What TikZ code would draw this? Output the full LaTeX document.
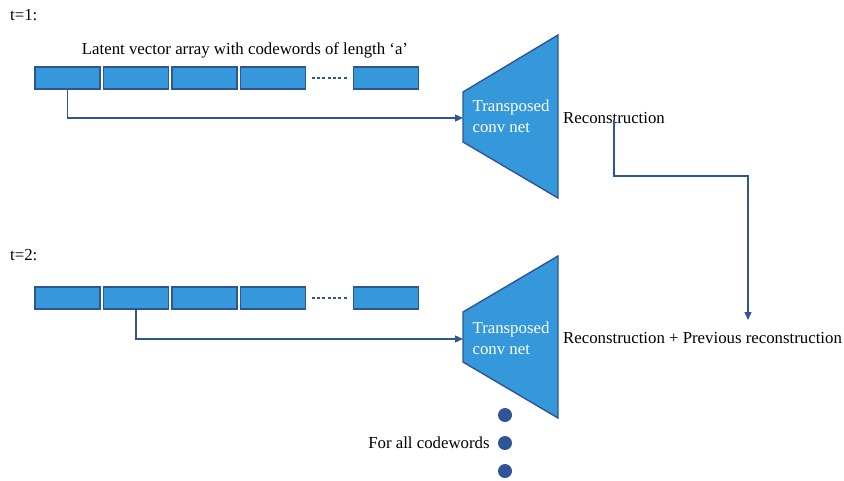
\documentclass[tikz,border=0pt]{standalone}
\usepackage{fontspec}
\setmainfont{Liberation Serif}
\usetikzlibrary{positioning}
\usetikzlibrary{arrows.meta}
\definecolor{cellblue}{HTML}{3498DB}
\definecolor{edgeblue}{HTML}{2F5597}

\begin{document}
\begin{tikzpicture}[x=1pt,y=-1pt,node distance=68.5pt,on grid,
   cell/.style={draw=edgeblue,fill=cellblue,line width=1.5pt,minimum width=65pt,minimum height=22pt,inner sep=0pt},
   link/.style={draw=edgeblue,line width=1.3pt,-{Triangle[length=8pt,width=7pt]}},
   net/.style={draw=edgeblue,fill=cellblue,line width=1.4pt},
   txt/.style={font=\fontsize{16.8}{19}\selectfont,inner sep=0pt},
   wtxt/.style={txt,text=white,align=left}]
   \useasboundingbox (0,0) rectangle (844,480);
   % t=1
   \node[txt,anchor=west] (t_1) at (10,15) {t=1:};
   \node[txt] (lat) at (245,50) {Latent vector array with codewords of length ‘a’};
   \node[cell] (c_11) at (67.5,78) {};
   \node[cell] (c_12) [right=of c_11] {};
   \node[cell] (c_13) [right=of c_12] {};
   \node[cell] (c_14) [right=of c_13] {};
   \node[cell] (c_15) [right=113pt of c_14] {};
   \draw[net] (463,92) -- (558,35) -- (558,198) -- (463,142) -- cycle;
   \coordinate (in_1) at (463,118);
   \node[wtxt] (net_1) at (511,116.5) {Transposed\\[2pt]conv net};
   \node[txt] (rec_1) at (614,118) {Reconstruction};
   % t=2
   \node[txt,anchor=west] (t_2) at (10,255) {t=2:};
   \node[cell] (c_21) at (67.5,298) {};
   \node[cell] (c_22) [right=of c_21] {};
   \node[cell] (c_23) [right=of c_22] {};
   \node[cell] (c_24) [right=of c_23] {};
   \node[cell] (c_25) [right=113pt of c_24] {};
   \draw[net] (463,312) -- (558,256) -- (558,418) -- (463,362) -- cycle;
   \coordinate (in_2) at (463,339);
   \node[wtxt] (net_2) at (511,338) {Transposed\\[2pt]conv net};
   \node[txt,anchor=west] (rec_2) at (563,338) {Reconstruction + Previous reconstruction};
   \coordinate (fb) at (748,320);
   % dotted gaps
   \foreach \r in {1,2}
      \draw[edgeblue,line width=2.6pt,dash pattern=on 3pt off 2.3pt]
         ([xshift=5.5pt]c_\r4.east) -- ([xshift=-4pt]c_\r5.west);
   % connectors
   \draw[link] (c_11.south) |- (in_1);
   \draw[link] (c_22.south) |- (in_2);
   \draw[link] ([yshift=4pt]rec_1.south) |- (748,176) -- (fb);
   % for all codewords
   \foreach \y/\n in {415/1,443/2,471/3}
      \node[circle,fill=edgeblue,minimum size=14pt,inner sep=0pt] (dot_\n) at (505,\y) {};
   \node[txt,on grid=false] (all) [left=8pt of dot_2] {For all codewords};
\end{tikzpicture}
\end{document}
